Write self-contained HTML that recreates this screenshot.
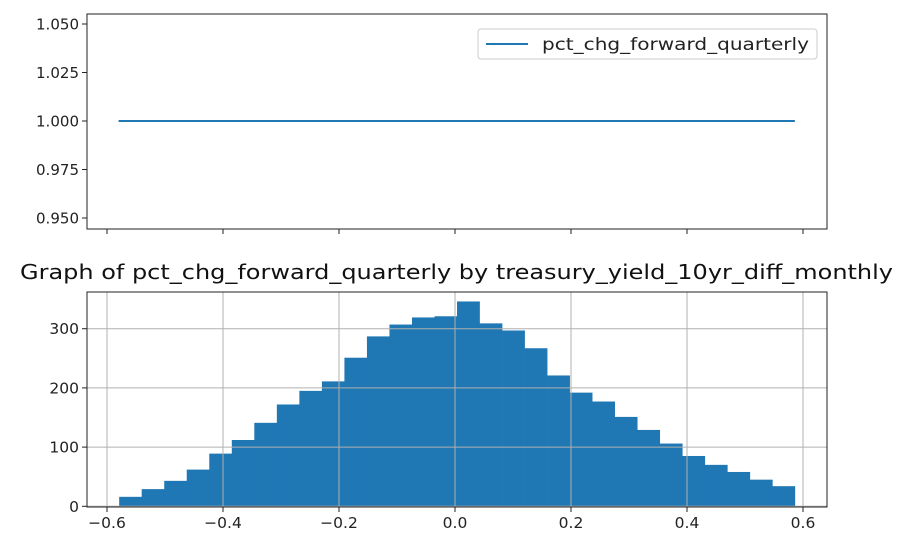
<!DOCTYPE html>
<html><head><meta charset="utf-8"><style>
body{margin:0;background:#fff;}
svg{display:block;font-family:"DejaVu Sans","Liberation Sans",sans-serif;}
</style></head><body>
<svg id="c" width="908" height="554" viewBox="0 0 908 554"></svg>
<script>
const binStart = -0.579;
const binEnd = 0.586;
const counts = [16,29,43,62,89,112,141,172,195,211,251,287,307,319,321,346,309,297,267,221,192,177,151,129,106,85,70,58,45,34];
const xTicks = [-0.6,-0.4,-0.2,0.0,0.2,0.4,0.6];
const xTickLabels = ["−0.6","−0.4","−0.2","0.0","0.2","0.4","0.6"];
const yTicks = [0,100,200,300];
const topYTicks = [0.95,0.975,1.0,1.025,1.05];
const topYLabels = ["0.950","0.975","1.000","1.025","1.050"];
const lineX = [-0.58,0.586];
const lineY = [1.0,1.0];

const NS="http://www.w3.org/2000/svg";
const svg=document.getElementById('c');
function mk(t,a,p){const e=document.createElementNS(NS,t);for(const k in a)e.setAttribute(k,a[k]);(p||svg).appendChild(e);return e;}
const L=87,R=827;
const xs=v=>455+(v-0)*580;
const T1=14,B1=229;
const ys1=v=>121-(v-1.0)*1940;
const T2=292,B2=507;
const ys2=v=>506.3-v*0.592;
const FS=15.5;

const gTop=mk('g',{});


const ln=mk('line',{x1:xs(lineX[0]),y1:ys1(lineY[0]),x2:xs(lineX[1]),y2:ys1(lineY[1]),stroke:'#1f77b4','stroke-width':2},gTop);


topYTicks.forEach((v,i)=>{
  const y=ys1(v);
  mk('line',{x1:L-5,x2:L,y1:y,y2:y,stroke:'#222','stroke-width':1},gTop);
  const t=mk('text',{x:L-8,y:y+5.5,'text-anchor':'end','font-size':FS,fill:'#222',textLength:43,lengthAdjust:'spacingAndGlyphs'},gTop);
  t.textContent=topYLabels[i];
  
  
});
xTicks.forEach(v=>{mk('line',{x1:xs(v),x2:xs(v),y1:B1,y2:B1+5,stroke:'#222','stroke-width':1},gTop);});
const f1=mk('rect',{x:L,y:T1,width:R-L,height:B1-T1,fill:'none',stroke:'#222','stroke-width':1},gTop);


const lg=mk('g',{},gTop);


mk('rect',{x:478,y:29,width:339,height:30,rx:3,fill:'#fff',stroke:'#ccc','stroke-width':1},lg);
mk('line',{x1:486,x2:528,y1:44,y2:44,stroke:'#1f77b4','stroke-width':2},lg);
const lt=mk('text',{x:542,y:50,'font-size':16.5,fill:'#222',textLength:267,lengthAdjust:'spacingAndGlyphs'},lg);
lt.textContent='pct_chg_forward_quarterly';



const ti=mk('text',{x:20,y:279,'font-size':20,fill:'#111',textLength:873,lengthAdjust:'spacingAndGlyphs'});
ti.textContent='Graph of pct_chg_forward_quarterly by treasury_yield_10yr_diff_monthly';



const gB=mk('g',{});


const bw=(binEnd-binStart)/counts.length;
counts.forEach((c,i)=>{
  const x0=xs(binStart+i*bw),x1=xs(binStart+(i+1)*bw);
  const r=mk('rect',{x:x0,y:ys2(c),width:x1-x0+0.3,height:ys2(0)-ys2(c),fill:'#1f77b4'},gB);
  
  
});
xTicks.forEach((v,i)=>{
  const x=xs(v);
  mk('line',{x1:x,x2:x,y1:T2,y2:B2,stroke:'#b0b0b0','stroke-width':1},gB);
  mk('line',{x1:x,x2:x,y1:B2,y2:B2+5,stroke:'#222','stroke-width':1},gB);
  const t=mk('text',{x:x,y:B2+21,'text-anchor':'middle','font-size':FS,fill:'#222'},gB);
  t.textContent=xTickLabels[i];
  
  
});
yTicks.forEach(v=>{
  const y=ys2(v);
  mk('line',{x1:L,x2:R,y1:y,y2:y,stroke:'#b0b0b0','stroke-width':1},gB);
  mk('line',{x1:L-5,x2:L,y1:y,y2:y,stroke:'#222','stroke-width':1},gB);
  const t=mk('text',{x:L-8,y:y+5.5,'text-anchor':'end','font-size':FS,fill:'#222'},gB);
  t.textContent=String(v);
  
  
});
const f2=mk('rect',{x:L,y:T2,width:R-L,height:B2-T2,fill:'none',stroke:'#222','stroke-width':1},gB);


</script>
</body></html>
